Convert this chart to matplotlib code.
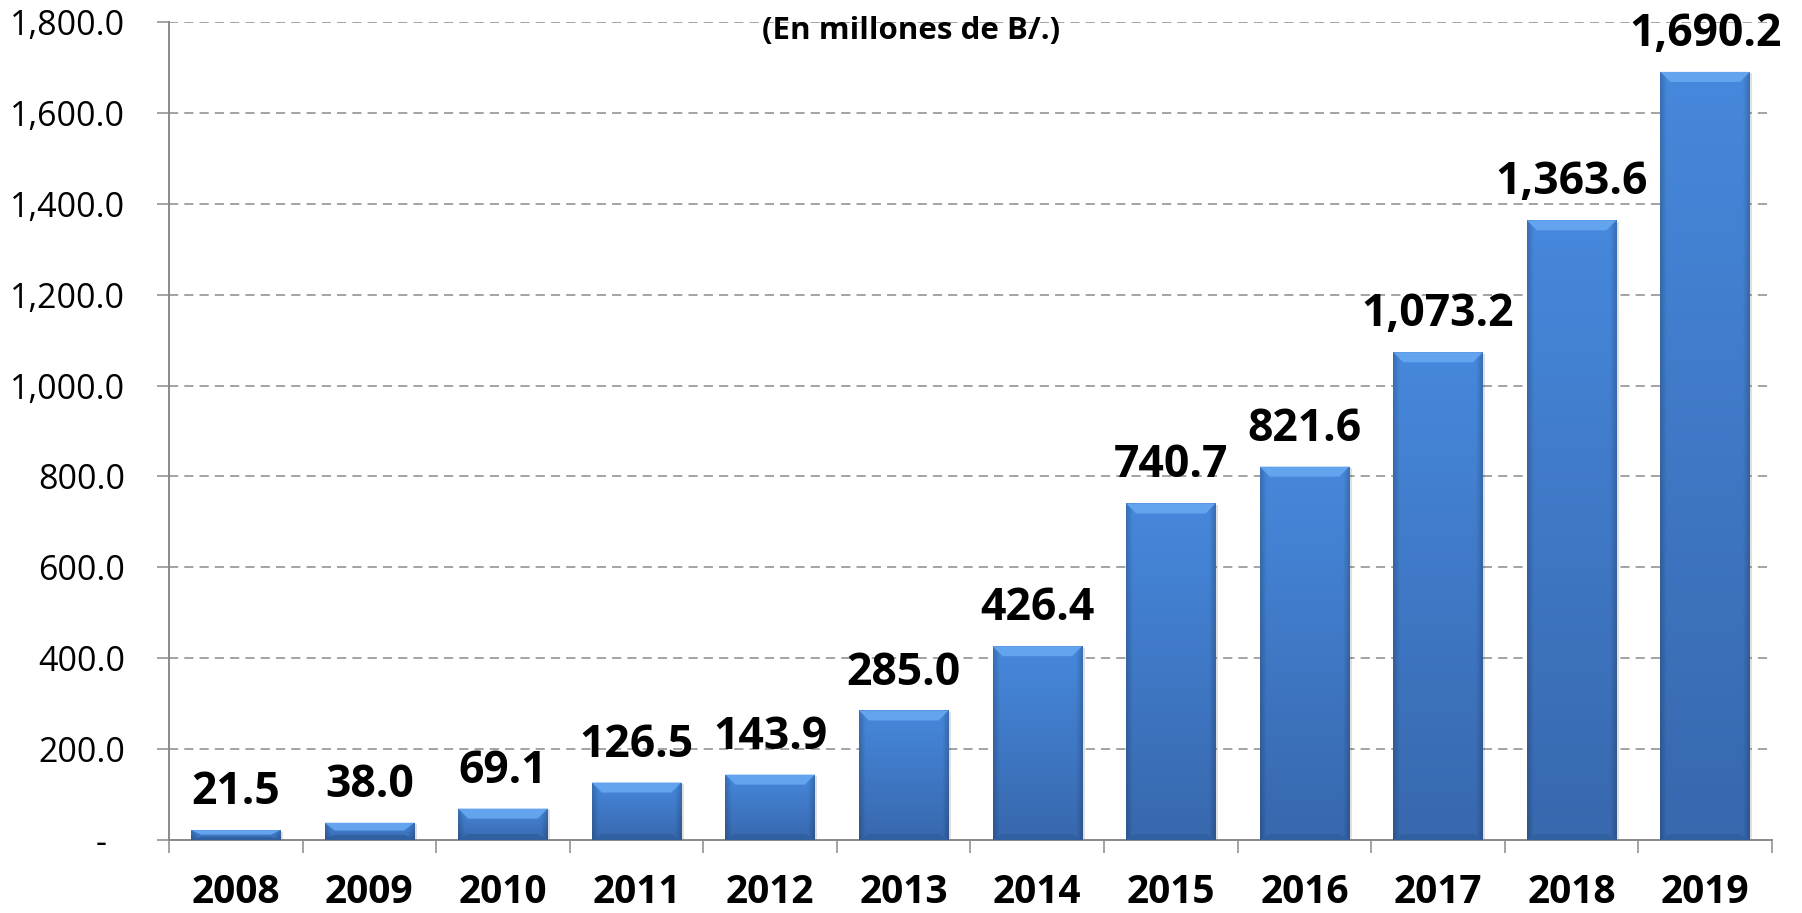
import matplotlib.pyplot as plt
import numpy as np
from matplotlib.patches import Polygon

plt.rcParams['font.family'] = ['Open Sans', 'DejaVu Sans']

# datos
anios = ['2008', '2009', '2010', '2011', '2012', '2013',
         '2014', '2015', '2016', '2017', '2018', '2019']
valores = [21.5, 38.0, 69.1, 126.5, 143.9, 285.0,
           426.4, 740.7, 821.6, 1073.2, 1363.6, 1690.2]
yticks = [0, 200, 400, 600, 800, 1000, 1200, 1400, 1600, 1800]
titulo = '(En millones de B/.)'

W, H = 1802, 913
fig = plt.figure(figsize=(W / 100, H / 100), dpi=100)
ax = fig.add_axes([169 / W, 1 - 840 / H, (1772 - 169) / W, (840 - 22) / H])

gris = '#8a8a8a'
x = np.arange(len(anios))
ancho = 0.67

bars = ax.bar(x, valores, width=ancho, color='#3f7bcc', zorder=3)

# degradado tipo bisel de Excel
top = np.array([0x46, 0x88, 0xdc]) / 255
bot = np.array([0x38, 0x68, 0xae]) / 255
ny, nx = 100, 60
t = np.linspace(0, 1, ny)[:, None, None]
grad = bot + t * (top - bot)
u = np.linspace(0, 1, nx)
lado = np.clip(np.minimum(u, 1 - u) / 0.07, 0, 1) * 0.18 + 0.82
img = grad * lado[None, :, None]

px_y = 1800 / 818
px_x = 1 / 133.6
for b in bars:
    x0, w, h = b.get_x(), b.get_width(), b.get_height()
    im = ax.imshow(img, extent=[x0, x0 + w, 0, h], origin='lower',
                   aspect='auto', zorder=4, interpolation='bilinear')
    im.set_clip_path(b)
    dy = min(10 * px_y, h * 0.45)
    dx = 10 * px_x
    ax.add_patch(Polygon([(x0, h), (x0 + w, h), (x0 + w - dx, h - dy), (x0 + dx, h - dy)],
                         closed=True, facecolor='#64a4ee', edgecolor='none', zorder=5))
    db = min(6 * px_y, h * 0.3)
    ax.add_patch(Polygon([(x0, 0), (x0 + w, 0), (x0 + w - dx, db), (x0 + dx, db)],
                         closed=True, facecolor='#30609f', edgecolor='none', zorder=5))
    # sombra
    ax.bar(x0 + w / 2 + 2.5 * px_x, h, width=w, bottom=-1.5 * px_y,
           color='#000000', alpha=0.12, zorder=2)

for xi, v in zip(x, valores):
    ax.annotate(f'{v:,.1f}', (xi, v), xytext=(0, 18.7), textcoords='offset points',
                ha='center', va='baseline', fontsize=32, fontweight='bold', zorder=6)

ax.set_xlim(-0.5, len(anios) - 0.5)
ax.set_ylim(0, 1800)

ax.set_yticks(yticks)
ax.set_yticklabels([f'{v:,.1f}' if v else '-  ' for v in yticks])
ax.tick_params(axis='y', length=8.6, width=1.1, color=gris, pad=23, labelsize=24.5)

ax.set_xticks(x)
ax.set_xticklabels(anios, fontweight='bold')
ax.set_xticks(np.arange(len(anios) + 1) - 0.5, minor=True)
ax.tick_params(axis='x', which='major', length=0, pad=24, labelsize=28)
ax.tick_params(axis='x', which='minor', length=9.4, width=1.1, color=gris)

ax.yaxis.grid(True, color=gris, linestyle=(0, (6, 4)), linewidth=1.1, zorder=0)
ax.set_axisbelow(True)

for s in ['top', 'right']:
    ax.spines[s].set_visible(False)
for s in ['left', 'bottom']:
    ax.spines[s].set_color(gris)
    ax.spines[s].set_linewidth(1.4)

fig.text(911 / W, 1 - 31 / H, titulo, ha='center', va='center',
         fontsize=22.5, fontweight='bold')

fig.savefig('out.png', dpi=100)
